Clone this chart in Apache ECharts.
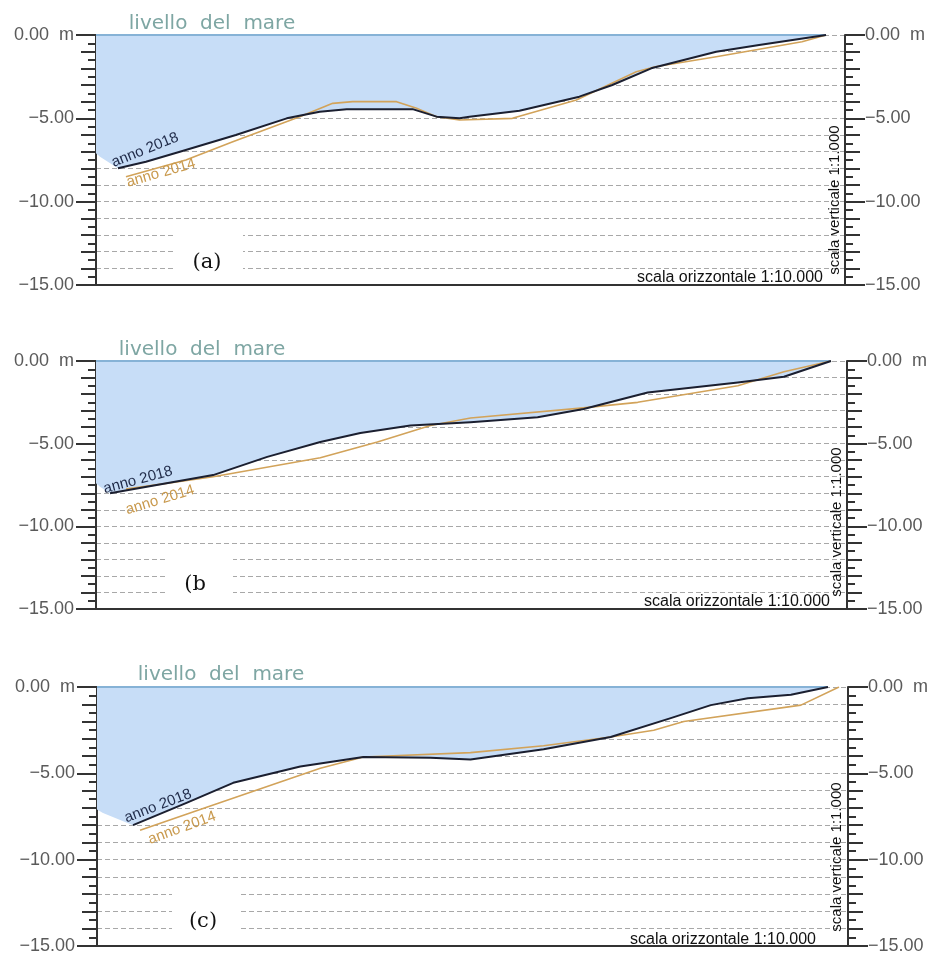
<!DOCTYPE html>
<html>
<head>
<meta charset="utf-8">
<script src="https://cdn.jsdelivr.net/npm/echarts@6/dist/echarts.min.js"></script>
<style>
html,body{margin:0;padding:0;background:#fff;}
#chart{width:938px;height:956px;}
</style>
</head>
<body>
<div id="chart"></div>
<script>
// ---- data (horizontal distance units, depth in m) ----
const panelLabels = ['(a)', '(b', '(c)'];
const yTickValues = [0, -5, -10, -15];

// panel (a)
const seabed2018A = [[22,-8.0],[50,-7.6],[84,-7.0],[140,-6.0],[191,-5.0],[224,-4.6],[251,-4.45],[317,-4.45],[341,-4.9],[364,-5.0],[374,-4.9],[424,-4.55],[484,-3.7],[517,-3.0],[556,-2.0],[621,-1.0],[664,-0.6],[731,0]];
const seabed2014A = [[30,-8.5],[90,-7.5],[137,-6.4],[204,-4.9],[237,-4.1],[257,-4.0],[301,-4.0],[321,-4.4],[341,-4.9],[364,-5.1],[417,-5.0],[481,-3.9],[541,-2.2],[560,-1.9],[621,-1.3],[707,-0.4],[731,0]];
const seaEdgeA = [[0,-7.1],[4,-7.3]];
const seaLevelA = [[0,0],[731,0]];

// panel (b)
const seabed2018B = [[14,-8.0],[117,-6.9],[171,-5.8],[224,-4.9],[264,-4.35],[314,-3.9],[374,-3.7],[441,-3.4],[487,-2.9],[551,-1.9],[641,-1.3],[687,-0.95],[734,0]];
const seabed2014B = [[30,-7.75],[117,-7.0],[224,-5.85],[281,-4.9],[334,-3.9],[374,-3.45],[484,-2.85],[541,-2.5],[641,-1.5],[687,-0.65],[734,0]];
const seaEdgeB = [[0,-7.4],[4,-7.6]];
const seaLevelB = [[0,0],[734,0]];

// panel (c)
const seabed2018C = [[36,-8.0],[90,-6.7],[136,-5.55],[203,-4.6],[266,-4.05],[333,-4.1],[373,-4.2],[446,-3.6],[513,-2.9],[573,-1.8],[613,-1.05],[650,-0.65],[693,-0.45],[730,0]];
const seabed2014C = [[43,-8.3],[103,-7.1],[223,-4.7],[266,-4.05],[373,-3.8],[446,-3.4],[513,-2.9],[556,-2.5],[586,-2.0],[703,-1.05],[741,0]];
const seaEdgeC = [[0,-7.1],[6,-7.3]];
const seaLevelC = [[0,0],[730,0]];

const panels = [
  {s2018: seabed2018A, s2014: seabed2014A, edge: seaEdgeA, sea: seaLevelA},
  {s2018: seabed2018B, s2014: seabed2014B, edge: seaEdgeB, sea: seaLevelB},
  {s2018: seabed2018C, s2014: seabed2014C, edge: seaEdgeC, sea: seaLevelC}
];

// ---- layout ----
const gridBoxes = [
  {left:96, right:93, top:35, height:250},
  {left:96, right:91, top:361, height:248},
  {left:97, right:90, top:687, height:259}
];

const AXIS_COLOR = '#333';
const LABEL_FONT = "'Liberation Sans', Arial, sans-serif";

const fmtLeft = v => v === 0 ? '0.00  m' : '\u2212' + Math.abs(v).toFixed(2);
const fmtRight = v => v === 0 ? '0.00  m' : '\u2212' + Math.abs(v).toFixed(2);

const grid = [], xAxis = [], yAxis = [], series = [];

gridBoxes.forEach((g, i) => {
  grid.push({left:g.left, right:g.right, top:g.top, height:g.height, containLabel:false});
  xAxis.push({
    type:'value', gridIndex:i, min:0, max:750,
    axisLine:{show:true, onZero:false, lineStyle:{color:AXIS_COLOR, width:2}},
    axisTick:{show:false}, axisLabel:{show:false}, splitLine:{show:false}
  });
  const base = {type:'value', gridIndex:i, min:-15, max:0};
  ['left','right'].forEach(pos => {
    yAxis.push(Object.assign({}, base, {
      position:pos, interval:5,
      axisLine:{show:true, lineStyle:{color:AXIS_COLOR, width:2}},
      axisTick:{show:true, length:20, lineStyle:{color:AXIS_COLOR, width:2}},
      axisLabel:{show:true, margin: pos==='left' ? 22 : 20, formatter: pos==='left'?fmtLeft:fmtRight,
        color:'#5a5a5a', fontSize:18, fontFamily:LABEL_FONT},
      splitLine:{show:false}
    }));
    yAxis.push(Object.assign({}, base, {
      position:pos, interval:1,
      axisLine:{show:false},
      axisTick:{show:true, length:15, lineStyle:{color:AXIS_COLOR, width:2}},
      axisLabel:{show:false},
      splitLine:{show: pos==='left', lineStyle:{color:'#a8a8a8', width:1, type:[5,3]}}
    }));
    yAxis.push(Object.assign({}, base, {
      position:pos, interval:0.5,
      axisLine:{show:false},
      axisTick:{show:true, length:8, lineStyle:{color:AXIS_COLOR, width:2}},
      axisLabel:{show:false},
      splitLine:{show:false}
    }));
  });
  const yi = i*6;
  const p = panels[i];
  series.push({
    type:'line', xAxisIndex:i, yAxisIndex:yi, data:p.edge.concat(p.s2018),
    showSymbol:false, lineStyle:{width:0, opacity:0},
    areaStyle:{color:'#c7ddf7', opacity:1, origin:'end'}, z:1, silent:true
  });
  series.push({
    type:'line', xAxisIndex:i, yAxisIndex:yi, data:p.sea,
    showSymbol:false, lineStyle:{color:'#86b2d6', width:2}, z:2, silent:true
  });
  series.push({
    type:'line', name:'anno 2014', xAxisIndex:i, yAxisIndex:yi, data:p.s2014,
    showSymbol:false, lineStyle:{color:'#d2a35a', width:1.6, join:'round'}, z:3
  });
  series.push({
    type:'line', name:'anno 2018', xAxisIndex:i, yAxisIndex:yi, data:p.s2018,
    showSymbol:false, lineStyle:{color:'#1b1f30', width:2, join:'round'}, z:4
  });
});

// ---- annotations ----
const textCfg = [
  {x:212, y:24, text:'livello  del  mare'},
  {x:202, y:350, text:'livello  del  mare'},
  {x:221, y:675, text:'livello  del  mare'}
];
const annoCfg = [
  {c2018:[145,150,22], c2014:[161,173,16]},
  {c2018:[138,480,15], c2014:[160,500,17]},
  {c2018:[158,806,21], c2014:[182,828,20]}
];
const boxCfg = [
  {x:175, y:232, w:68, h:51, tx:207, ty:263},
  {x:165, y:553, w:68, h:54, tx:195, ty:585},
  {x:172, y:893, w:66, h:51, tx:203, ty:922}
];
const scaleHCfg = [[730,278],[737,602],[723,940]];
const scaleVCfg = [[835,200],[837,522],[837,857]];

const graphic = [];
textCfg.forEach(t => graphic.push({type:'text', x:t.x, y:t.y, z:100,
  style:{text:t.text, fill:'#7ea6a3', font:"20px 'DejaVu Sans', sans-serif", textAlign:'center', textVerticalAlign:'middle'}}));
annoCfg.forEach(a => {
  graphic.push({type:'text', x:a.c2018[0], y:a.c2018[1], rotation:a.c2018[2]*Math.PI/180, z:100,
    style:{text:'anno 2018', fill:'#1f2a48', font:"15px 'Liberation Sans', Arial, sans-serif", textAlign:'center', textVerticalAlign:'middle'}});
  graphic.push({type:'text', x:a.c2014[0], y:a.c2014[1], rotation:a.c2014[2]*Math.PI/180, z:100,
    style:{text:'anno 2014', fill:'#c99a4e', font:"15px 'Liberation Sans', Arial, sans-serif", textAlign:'center', textVerticalAlign:'middle'}});
});
boxCfg.forEach((b, i) => {
  graphic.push({type:'rect', shape:{x:b.x, y:b.y, width:b.w, height:b.h}, z:90, style:{fill:'#ffffff'}});
  graphic.push({type:'text', x:b.tx, y:b.ty, z:100,
    style:{text:panelLabels[i], fill:'#111', font:"21px 'DejaVu Serif', 'Liberation Serif', serif", textAlign:'center', textVerticalAlign:'middle'}});
});
scaleHCfg.forEach(s => graphic.push({type:'text', x:s[0], y:s[1], z:100,
  style:{text:'scala orizzontale 1:10.000', fill:'#111', font:"16px 'Liberation Sans', Arial, sans-serif", textAlign:'center', textVerticalAlign:'middle'}}));
scaleVCfg.forEach(s => graphic.push({type:'text', x:s[0], y:s[1], rotation:Math.PI/2, z:100,
  style:{text:'scala verticale 1:1.000', fill:'#111', font:"15px 'Liberation Sans', Arial, sans-serif", textAlign:'center', textVerticalAlign:'middle'}}));

const chart = echarts.init(document.getElementById('chart'), null, {renderer:'canvas'});
chart.setOption({
  animation:false,
  backgroundColor:'#ffffff',
  grid, xAxis, yAxis, series, graphic
});
</script>
</body>
</html>
